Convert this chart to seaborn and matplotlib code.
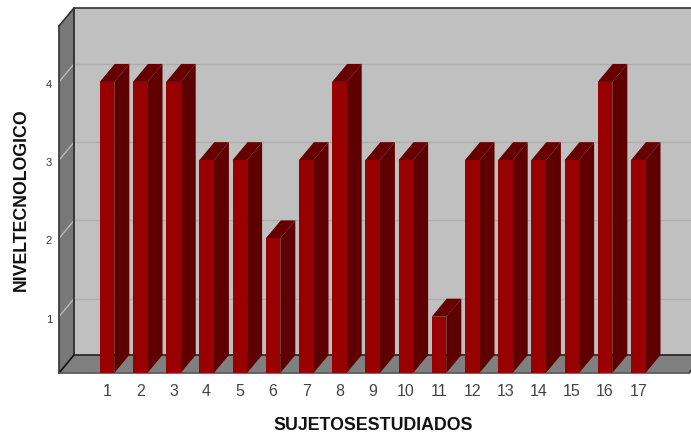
import matplotlib
matplotlib.use('Agg')
import matplotlib.pyplot as plt
import seaborn as sns
from matplotlib.patches import Polygon
from matplotlib.transforms import Affine2D, IdentityTransform

sujetos = [str(i) for i in range(1, 18)]
nivel = [4, 4, 4, 3, 3, 2, 3, 4, 3, 3, 1, 3, 3, 3, 3, 4, 3]
y_ticks = [1, 2, 3, 4]

# depth of the fake 3d box, in pixels
DX, DY = 15, 18

sns.set_style('white')
plt.rcParams['font.family'] = ['Liberation Sans', 'DejaVu Sans']

fig = plt.figure(figsize=(6.91, 4.32), dpi=100)
ax = fig.add_axes([59 / 691, 59 / 432, 630 / 691, 347 / 432])
ax.patch.set_visible(False)

sns.barplot(x=sujetos, y=nivel, color='#990000', saturation=1, width=0.44, linewidth=0, ax=ax, zorder=5)
ax.set_xlim(-1.446, 17.53)
ax.set_ylim(0.28, 4.715)
ax.set_yticks(y_ticks)
ax.tick_params(axis='x', length=0, pad=8, labelsize=11.5, labelcolor='#444444')
ax.tick_params(axis='y', length=0, pad=5, labelsize=8, labelcolor='#333333')
# tick numbers sit a little under their grid level
for lab in ax.get_yticklabels():
    lab.set_transform(lab.get_transform() + Affine2D().translate(0, -2))
sns.despine(ax=ax, left=True, bottom=True)
ax.set_xlabel('')
ax.set_ylabel('')


def to_px(x, y):
    return ax.transData.transform((x, y))


def face(points, color, z):
    p = Polygon(points, closed=True, facecolor=color, edgecolor='none', linewidth=0,
                transform=IdentityTransform(), zorder=z, clip_on=False)
    fig.add_artist(p)


def line(p, q, color, lw, z):
    fig.add_artist(plt.Line2D([p[0], q[0]], [p[1], q[1]], color=color, lw=lw,
                              transform=IdentityTransform(), zorder=z))


x0, x1 = ax.get_xlim()
y0, y1 = ax.get_ylim()
bl = to_px(x0, y0)
br = to_px(x1, y0)
tl = to_px(x0, y1)
tr = to_px(x1, y1)
d = (DX, DY)

# walls and floor
face([tl + d, tr + d, br + d, bl + d], '#c0c0c0', 1)
face([bl, tl, tl + d, bl + d], '#787878', 2)
for v in y_ticks:
    a = to_px(x0, v)
    b = to_px(x1, v)
    line(a, a + d, '#b8b8b8', 1, 3)
    line(a + d, b + d, '#adadad', 1, 3)
face([bl, br, br + d, bl + d], '#808080', 3)

# box outlines
for p, q, c in [(bl + d, tl + d, '#222222'), (tl + d, tr + d, '#333333'), (bl, tl, '#333333'),
                (tl, tl + d, '#333333'), (bl, bl + d, '#111111'), (bl + d, br + d, '#222222'),
                (br, br + d, '#333333')]:
    line(p, q, c, 1.2, 4)
line(bl, br, '#555555', 1.2, 4)

# side and top of every bar, taken from the bars seaborn drew
for bar in ax.patches:
    left = bar.get_x()
    right = left + bar.get_width()
    top = bar.get_height()
    tf = to_px(left, top)
    tg = to_px(right, top)
    bg = to_px(right, y0)
    face([tg, bg, bg + d, tg + d], '#5f0000', 5)
    face([tf, tg, tg + d, tf + d], '#660000', 5)

ax.set_zorder(6)

fig.text(373 / 691, 1 - 425 / 432, 'SUJETOSESTUDIADOS', ha='center', va='center',
         fontsize=12.8, fontweight='bold', color='#111111')
fig.text(21 / 691, 1 - 200 / 432, 'NIVELTECNOLOGICO', ha='center', va='center', rotation=90,
         fontsize=12.8, fontweight='bold', color='#111111')

fig.savefig('out.png', dpi=100)
